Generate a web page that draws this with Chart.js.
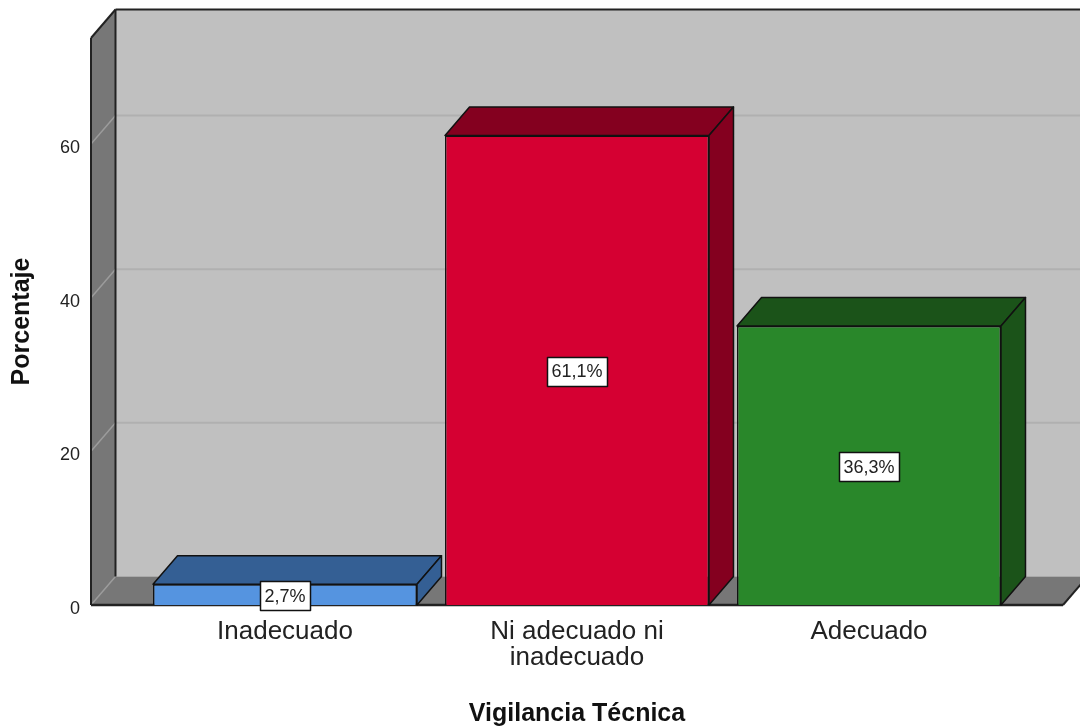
<!DOCTYPE html>
<html><head><meta charset="utf-8">
<script src="https://cdn.jsdelivr.net/npm/chart.js@4"></script>
<style>html,body{margin:0;padding:0;background:#fff}#wrap{width:1080px;height:728px}</style>
</head><body><div id="wrap"><canvas id="c" width="1080" height="728"></canvas></div>
<script>
const categories = [["Inadecuado"], ["Ni adecuado ni", "inadecuado"], ["Adecuado"]];
const percentages = [2.7, 61.1, 36.3];
const yTickValues = [0, 20, 40, 60];
const yMax = 73.8;
const xTitle = "Vigilancia Técnica";
const yTitle = "Porcentaje";

const frontColors = ["#5594e0", "#d50032", "#29872a"];
const darkColors = ["#345f94", "#84001f", "#1b5319"];

const DX = 24.5, DY = 28.5, WALL = 48;
const FONT = "'Liberation Sans', Arial, sans-serif";

function poly(ctx, pts, fill, stroke, lw) {
  ctx.beginPath();
  ctx.moveTo(pts[0][0], pts[0][1]);
  for (let i = 1; i < pts.length; i++) ctx.lineTo(pts[i][0], pts[i][1]);
  ctx.closePath();
  if (fill) { ctx.fillStyle = fill; ctx.fill(); }
  if (stroke) { ctx.strokeStyle = stroke; ctx.lineWidth = lw || 1; ctx.lineJoin = 'round'; ctx.stroke(); }
}
function line(ctx, x1, y1, x2, y2, color, lw) {
  ctx.beginPath(); ctx.moveTo(x1, y1); ctx.lineTo(x2, y2);
  ctx.strokeStyle = color; ctx.lineWidth = lw; ctx.stroke();
}

const box3d = {
  id: 'box3d',
  beforeDatasetsDraw(chart) {
    const {ctx, chartArea: a, scales: {y}} = chart;
    const L = a.left - WALL, R = a.right + WALL, T = a.top, B = a.bottom;
    ctx.save();
    ctx.fillStyle = '#c0c0c0';
    ctx.fillRect(L + DX, T - DY, chart.width - (L + DX) + 20, B - T);
    poly(ctx, [[L, T], [L + DX, T - DY], [L + DX, B - DY], [L, B]], '#777777');
    poly(ctx, [[L, B], [L + DX, B - DY], [R + DX, B - DY], [R, B]], '#777777');
    yTickValues.forEach(v => {
      const py = y.getPixelForValue(v);
      line(ctx, L, py, L + DX, py - DY, '#9c9c9c', 1.5);
      if (v !== 0) line(ctx, L + DX, py - DY, chart.width + 20, py - DY, '#b0b0b0', 2);
    });
    line(ctx, L + DX, T - DY, L + DX, B - DY, '#222', 2);
    line(ctx, L, T, L, B, '#222', 2);
    line(ctx, L, T, L + DX, T - DY, '#222', 2);
    line(ctx, L + DX, T - DY, chart.width + 20, T - DY, '#222', 2);
    line(ctx, L, B, R, B, '#222', 2.5);
    line(ctx, R, B, R + DX, B - DY, '#222', 2);
    ctx.restore();
  },
  afterDatasetsDraw(chart) {
    const {ctx} = chart;
    const meta = chart.getDatasetMeta(0);
    ctx.save();
    meta.data.forEach((bar, i) => {
      const {x, y, base, width} = bar.getProps(['x', 'y', 'base', 'width'], true);
      const l = x - width / 2, r = x + width / 2;
      poly(ctx, [[l, y], [l + DX, y - DY], [r + DX, y - DY], [r, y]], darkColors[i], '#111', 1.5);
      poly(ctx, [[r, y], [r + DX, y - DY], [r + DX, base - DY], [r, base]], darkColors[i], '#111', 1.5);
    });
    meta.data.forEach((bar, i) => {
      const {x, y, base} = bar.getProps(['x', 'y', 'base'], true);
      const txt = percentages[i].toFixed(1).replace('.', ',') + '%';
      ctx.font = '18px ' + FONT;
      const tw = ctx.measureText(txt).width;
      const bw = tw + 9, bh = 29;
      const cy = (y + base) / 2 + 1;
      ctx.fillStyle = '#fff';
      ctx.fillRect(Math.round(x - bw / 2) + 0.5, Math.round(cy - bh / 2) + 0.5, Math.round(bw), bh);
      ctx.strokeStyle = '#111'; ctx.lineWidth = 1.5;
      ctx.strokeRect(Math.round(x - bw / 2) + 0.5, Math.round(cy - bh / 2) + 0.5, Math.round(bw), bh);
      ctx.fillStyle = '#222'; ctx.textAlign = 'center'; ctx.textBaseline = 'middle';
      ctx.fillText(txt, x, cy + 1);
    });
    ctx.restore();
  }
};

new Chart(document.getElementById('c'), {
  type: 'bar',
  data: {
    labels: categories,
    datasets: [{
      data: percentages,
      backgroundColor: frontColors,
      borderColor: '#111',
      borderWidth: 1.5,
      barPercentage: 0.904,
      categoryPercentage: 1.0
    }]
  },
  options: {
    responsive: false,
    animation: false,
    layout: { padding: { top: 38, right: 65, left: 0, bottom: 0 } },
    plugins: { legend: { display: false }, tooltip: { enabled: false } },
    scales: {
      x: {
        grid: { display: false, drawTicks: false },
        border: { display: false },
        ticks: { padding: 14, color: '#222', font: { family: FONT, size: 26, lineHeight: 1.0 }, maxRotation: 0, autoSkip: false },
        title: { display: true, text: xTitle, color: '#111', padding: { top: 0, bottom: 0 }, font: { family: FONT, size: 25, weight: 'bold', lineHeight: 1.12 } },
        afterFit(s) { s.height = 123; s.paddingLeft = 0; s.paddingRight = 0; }
      },
      y: {
        min: 0, max: yMax,
        afterBuildTicks(s) { s.ticks = yTickValues.map(v => ({ value: v })); },
        grid: { display: false, drawTicks: false },
        border: { display: false },
        ticks: { padding: 59, labelOffset: 4, color: '#222', font: { family: FONT, size: 18 } },
        title: { display: true, text: yTitle, color: '#111', padding: { top: 7, bottom: 0 }, font: { family: FONT, size: 25, weight: 'bold' } },
        afterFit(s) { s.width = 139; s.paddingTop = 0; s.paddingBottom = 0; }
      }
    }
  },
  plugins: [box3d]
});
</script>
</body></html>
